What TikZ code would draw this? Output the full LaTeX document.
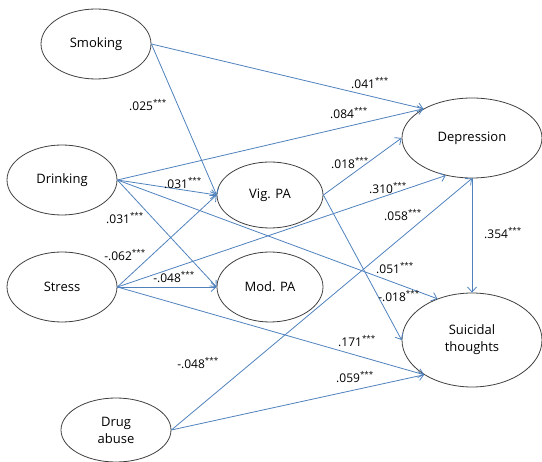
\documentclass[tikz,border=0pt]{standalone}
\usepackage{fontspec}
\setmainfont{Open Sans}
\usetikzlibrary{shapes.geometric,arrows.meta}
\definecolor{linkblue}{RGB}{79,129,189}

\begin{document}
\begin{tikzpicture}[x=1pt,y=-1pt,
        >={Straight Barb[length=5pt,width=9pt]},
        var/.style={ellipse, draw=black!75, line width=0.8pt, inner sep=0pt,
            minimum width=110pt, minimum height=70pt, align=center,
            font=\fontsize{13}{17}\selectfont},
        link/.style={->, linkblue, line width=0.8pt},
        coef/.style={inner sep=0pt, font=\fontsize{12}{14}\selectfont}]
    \useasboundingbox (0,0) rectangle (542,462);

    %% variables
    \node[var] (smoke) at (96,44) {Smoking};
    \node[var] (drink) at (62,180) {Drinking};
    \node[var] (stress) at (62,287) {Stress};
    \node[var, minimum height=64pt] (drug) at (116,430) {Drug\\abuse};
    \node[var, minimum width=106pt, minimum height=66pt] (vig) at (270,195) {Vig. PA};
    \node[var, minimum width=106pt] (mod) at (270,287) {Mod. PA};
    \node[var, minimum width=140pt, minimum height=80pt] (dep) at (472,138) {Depression};
    \node[var, minimum width=140pt, minimum height=94pt] (suic) at (472,340) {Suicidal\\thoughts};

    %% paths
    \draw [link] (smoke.east)--(dep.149);
    \draw [link] (smoke.east)--(vig.west);
    \draw [link] (drink.east)--(dep.149);
    \draw [link] (drink.east)--(vig.west);
    \draw [link] (drink.east)--(mod.west);
    \draw [link] (drink.east)--(suic.130);
    \draw [link] (vig.east)--(dep.west);
    \draw [link] (vig.east)--(suic.west);
    \draw [link] (stress.east)--(vig.west);
    \draw [link] (stress.east)--(mod.west);
    \draw [link] (stress.east)--(dep.235);
    \draw [link] (stress.east)--(suic.216);
    \draw [link] (drug.east)--(dep.south);
    \draw [link] (drug.east)--(suic.216);
    \draw [link] (dep.south)--(suic.north);

    %% coefficients
    \node[coef] (c041) at (370,83) {.041\textsuperscript{***}};
    \node[coef] (c084) at (349,113) {.084\textsuperscript{***}};
    \node[coef] (c025) at (148,105) {.025\textsuperscript{***}};
    \node[coef] (c031a) at (183,183) {.031\textsuperscript{***}};
    \node[coef] (c031b) at (125,218) {.031\textsuperscript{***}};
    \node[coef] (c018a) at (350,163) {.018\textsuperscript{***}};
    \node[coef] (c310) at (388,188) {.310\textsuperscript{***}};
    \node[coef] (c058) at (403,215) {.058\textsuperscript{***}};
    \node[coef] (c062) at (125,255) {-.062\textsuperscript{***}};
    \node[coef] (c048a) at (174,277) {-.048\textsuperscript{***}};
    \node[coef] (c048b) at (198,363) {-.048\textsuperscript{***}};
    \node[coef] (c354) at (503,233) {.354\textsuperscript{***}};
    \node[coef] (c051) at (395,268) {.051\textsuperscript{***}};
    \node[coef] (c018b) at (399,296) {-.018\textsuperscript{***}};
    \node[coef] (c171) at (357,341) {.171\textsuperscript{***}};
    \node[coef] (c059) at (355,377) {.059\textsuperscript{***}};
\end{tikzpicture}
\end{document}
